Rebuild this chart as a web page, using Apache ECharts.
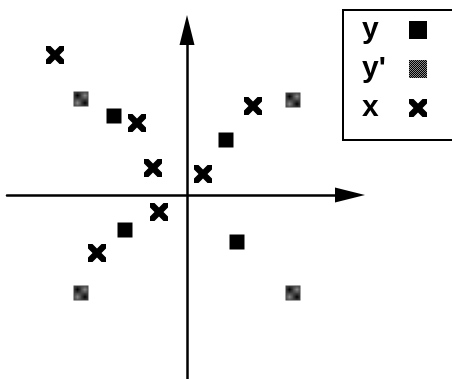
<!DOCTYPE html>
<html>
<head>
<meta charset="utf-8">
<script src="https://cdn.jsdelivr.net/npm/echarts@6/dist/echarts.min.js"></script>
<style>
  html, body { margin: 0; padding: 0; background: #fff; }
  #container { width: 452px; height: 379px; }
</style>
</head>
<body>
<div id="container"></div>
<script>
// points, origin at the crossing of the arrows
const seriesNames = ['y', "y'", 'x'];
const yPoints = [[-7.3, 7.9], [3.9, 5.5], [-6.2, -3.5], [5.0, -4.7]];
const yPrimePoints = [[-10.6, 9.6], [10.6, 9.5], [-10.6, -9.8], [10.6, -9.8]];
const xPoints = [[-13.2, 14.0], [-5.0, 7.2], [-3.4, 2.7], [1.6, 2.1], [6.6, 8.9], [-2.8, -1.7], [-9.0, -5.8]];

// dotted grey fill for y'
const dots = document.createElement('canvas');
dots.width = 2;
dots.height = 2;
const dctx = dots.getContext('2d');
dctx.fillStyle = '#8a8a8a';
dctx.fillRect(0, 0, 2, 2);
dctx.fillStyle = '#000';
dctx.fillRect(0, 0, 1, 1);
dctx.fillRect(1, 1, 1, 1);

const cross = 'path://M0,0 L5,0 L10,5 L15,0 L20,0 L20,5 L15,10 L20,15 L20,20 L15,20 L10,15 L5,20 L0,20 L0,15 L5,10 L0,5 Z';

// arrow head is centred on the line end, so the line stops 15px short of the tip
const axisLine = {
    onZero: true,
    symbol: ['none', 'triangle'],
    symbolSize: [15, 30],
    lineStyle: { color: '#000', width: 2.5 },
};

const chart = echarts.init(document.getElementById('container'));
chart.setOption({
    animation: false,
    backgroundColor: '#fff',
    grid: { left: 7, top: 30, width: 343, height: 349 },
    xAxis: {
        type: 'value', min: -18, max: 16.3,
        axisLine: axisLine,
        axisTick: { show: false }, axisLabel: { show: false }, splitLine: { show: false },
    },
    yAxis: {
        type: 'value', min: -18.4, max: 16.5,
        axisLine: axisLine,
        axisTick: { show: false }, axisLabel: { show: false }, splitLine: { show: false },
    },
    graphic: [{
        type: 'rect',
        shape: { x: 343, y: 10, width: 140, height: 130 },
        style: { fill: 'none', stroke: '#000', lineWidth: 2 },
    }],
    legend: {
        orient: 'vertical',
        left: 362,
        top: 15,
        align: 'right',
        itemGap: 9,
        itemWidth: 18,
        itemHeight: 18,
        padding: 0,
        formatter: (name) => '{t|' + name + '}',
        textStyle: {
            color: '#000',
            rich: {
                t: {
                    fontFamily: 'Liberation Sans', fontWeight: 'bold', fontSize: 30,
                    color: '#000', width: 42, lineHeight: 30, align: 'left',
                },
            },
        },
        data: seriesNames,
    },
    series: [
        {
            name: seriesNames[0], type: 'scatter', data: yPoints,
            symbol: 'rect', symbolSize: 15,
            itemStyle: { color: '#000', opacity: 1 },
        },
        {
            name: seriesNames[1], type: 'scatter', data: yPrimePoints,
            symbol: 'rect', symbolSize: 15,
            itemStyle: { color: { image: dots, repeat: 'repeat' }, opacity: 1 },
        },
        {
            name: seriesNames[2], type: 'scatter', data: xPoints,
            symbol: cross, symbolSize: 18,
            itemStyle: { color: '#000', opacity: 1 },
        },
    ],
});
</script>
</body>
</html>
